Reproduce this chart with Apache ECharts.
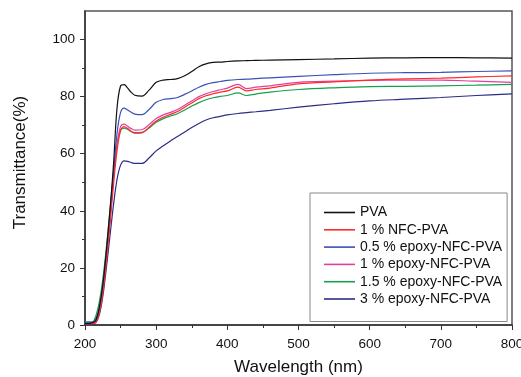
<!DOCTYPE html>
<html><head><meta charset="utf-8">
<script src="https://cdn.jsdelivr.net/npm/echarts@6/dist/echarts.min.js"></script>
<style>html,body{margin:0;padding:0;background:#fff}#c{width:521px;height:377px}</style>
</head><body><div id="c"></div>
<script>
const wavelength = [200,205,210,215,220,225,230,235,240,245,250,255,260,265,270,280,290,300,310,320,330,340,350,360,370,380,390,400,415,427,440,460,500,550,600,650,700,750,800];
const seriesNames = ['PVA','1 % NFC-PVA','0.5 % epoxy-NFC-PVA','1 % epoxy-NFC-PVA','1.5 % epoxy-NFC-PVA','3 % epoxy-NFC-PVA'];
const pva = [0.5,0.5,0.8,1.5,6,14,26,40,56,76,83.8,84.2,83,81.5,80.5,80.2,82.3,85,85.8,86,86.3,87.3,88.8,90.5,91.5,92,92.1,92.3,92.5,92.6,92.7,92.8,93,93.2,93.5,93.6,93.7,93.6,93.5];
const nfc1 = [0.3,0.3,0.5,0.8,4,11,22,35,49,61,68,69.5,68.8,67.8,67.2,67.3,69.3,71.5,72.8,73.8,74.8,76.3,77.8,79.3,80.3,81,81.6,82,83.3,82,82.5,83,84.5,85.2,85.8,86.2,86.5,86.9,87.3];
const epoxy05 = [1,1,1,2,6,14,25,38,53,67,74.5,76,75.3,74.5,73.9,73.7,75.5,78,79,79.3,79.7,80.8,82,83.3,84.3,84.9,85.3,85.7,86,86.1,86.3,86.6,87.1,87.7,88.2,88.4,88.5,88.8,89];
const epoxy1 = [0.5,0.5,0.7,1.5,5,13,24,37,51,63,69.5,70.4,69.6,68.8,68.3,68.4,70.2,72.3,73.6,74.5,75.5,77,78.5,80,81,81.8,82.4,83,84.3,82.8,83.3,83.8,85,85.4,85.7,85.8,85.8,85.4,85];
const epoxy15 = [1,1,1,3,8,16,27,40,53,63,68.3,69,68.5,67.8,67.4,67.5,69,71,72.3,73.2,74,75.3,76.7,77.9,78.9,79.6,80.1,80.4,81.3,80.4,80.9,81.6,82.5,83.1,83.5,83.6,83.8,84,84.3];
const epoxy3 = [0.3,0.3,0.4,0.8,3.5,10,20,31,42,51,56,57.5,57.3,56.9,56.6,56.6,58.5,61,62.8,64.5,66,67.6,69.2,70.6,71.8,72.6,73.1,73.6,74.1,74.4,74.7,75.2,76.3,77.5,78.5,79.1,79.7,80.4,81];
const xTicks = [200,300,400,500,600,700,800];
const yMajor = [0,20,40,60,80,100];
const yMinor = [10,30,50,70,90];

const values = [pva, nfc1, epoxy05, epoxy1, epoxy15, epoxy3];
const colors = ['#111111','#ff2b2b','#3b50b8','#e040a0','#15a04c','#2c2c86'];
const font = 'Liberation Sans, Arial, sans-serif';

const chart = echarts.init(document.getElementById('c'), null, {renderer:'canvas'});
chart.setOption({
  animation:false,
  backgroundColor:'#fff',
  grid:{left:85, right:9, top:11, bottom:52, outerBoundsMode:'none', containLabel:false,
        show:true, borderColor:'#555', borderWidth:1.5, backgroundColor:'transparent'},
  xAxis:{
    type:'value', min:200, max:800, interval:100,
    name:'Wavelength (nm)', nameLocation:'middle', nameGap:34,
    nameTextStyle:{fontFamily:font, fontSize:17, color:'#111'},
    axisLine:{show:true, lineStyle:{color:'#333', width:1.5}},
    axisTick:{show:true, length:5, lineStyle:{color:'#333'}},
    minorTick:{show:true, splitNumber:2, length:3, lineStyle:{color:'#333'}},
    splitLine:{show:false},
    axisLabel:{margin:12, fontFamily:font, fontSize:13.5, color:'#111', customValues:xTicks}
  },
  yAxis:[{
    type:'value', min:0, max:110,
    name:'Transmittance(%)', nameLocation:'middle', nameGap:56,
    nameTextStyle:{fontFamily:font, fontSize:17, color:'#111', padding:[0,0,0,11]},
    axisLine:{show:true, lineStyle:{color:'#333', width:1.5}},
    axisTick:{show:true, length:5, customValues:yMajor, lineStyle:{color:'#333'}},
    splitLine:{show:false},
    axisLabel:{margin:10, fontFamily:font, fontSize:13.5, color:'#111', customValues:yMajor}
  },{
    type:'value', min:0, max:110, position:'left',
    axisLine:{show:false},
    axisTick:{show:true, length:3, customValues:yMinor, lineStyle:{color:'#333'}},
    splitLine:{show:false},
    axisLabel:{show:false}
  }],
  legend:{
    orient:'vertical', left:310, top:193,
    padding:[12,5,15,14],
    itemGap:2.3, itemWidth:31, itemHeight:1.6,
    icon:'rect',
    borderColor:'#888', borderWidth:1, backgroundColor:'#fff',
    textStyle:{fontFamily:font, fontSize:14, color:'#111', lineHeight:15},
    data:seriesNames
  },
  series: seriesNames.map((n,i)=>({
    name:n, type:'line', showSymbol:false, smooth:0.35,
    yAxisIndex:0,
    z: 10-i,
    lineStyle:{color:colors[i], width:1.2},
    itemStyle:{color:colors[i]},
    data: wavelength.map((w,k)=>[w, values[i][k]])
  })).reverse()
});
</script></body></html>
